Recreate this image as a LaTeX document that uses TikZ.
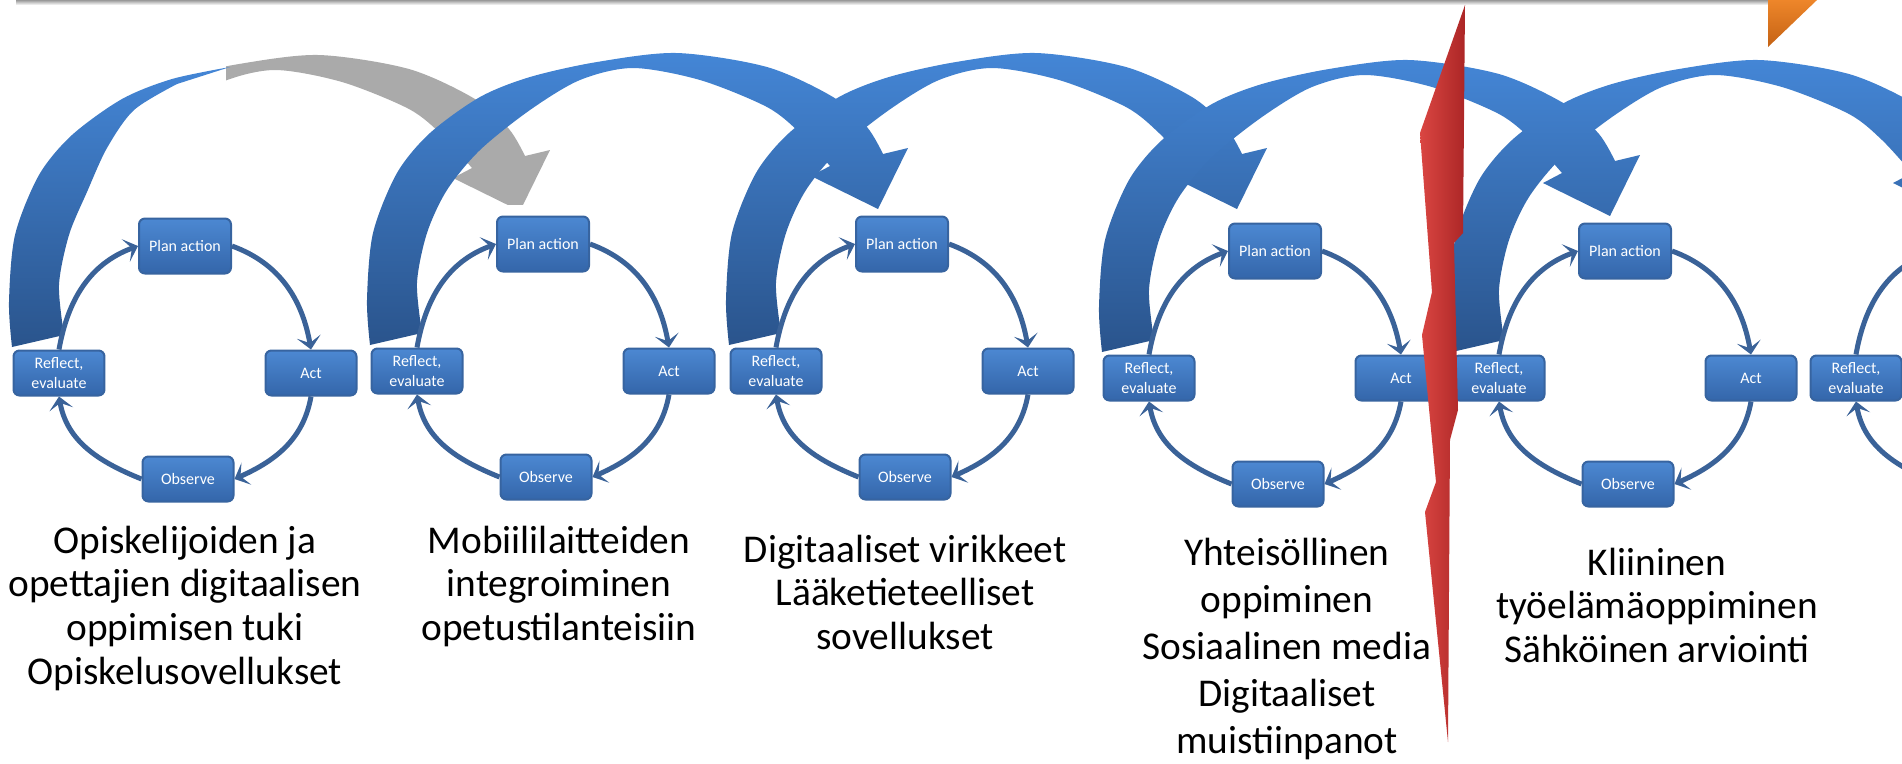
\documentclass[tikz,border=0pt]{standalone}
\usepackage{fontspec}
\setmainfont{Carlito}
\usetikzlibrary{arrows.meta}

\definecolor{boxtop}{RGB}{76,136,210}
\definecolor{boxbot}{RGB}{52,102,170}
\definecolor{boxline}{RGB}{55,100,160}
\definecolor{ringblue}{RGB}{58,98,152}
\definecolor{bandtop}{RGB}{68,134,214}
\definecolor{bandbot}{RGB}{42,84,140}
\definecolor{shadowgray}{RGB}{170,170,170}
\definecolor{boltred}{RGB}{218,70,66}
\definecolor{boltdark}{RGB}{172,38,38}
\definecolor{tiporange}{RGB}{238,134,42}
\definecolor{tipdark}{RGB}{196,98,20}

\tikzset{
  stagebox/.style={rectangle, rounded corners=0.6mm, draw=boxline, line width=0.2mm,
    top color=boxtop, bottom color=boxbot, text=white, inner sep=0pt,
    minimum width=9.1mm, minimum height=4.5mm, align=center,
    font=\fontsize{4.55}{5.5}\selectfont},
  planbox/.style={minimum width=9.2mm, minimum height=5.5mm},
  ringarrow/.style={draw=ringblue, line width=0.5mm,
    -{Stealth[length=1.3mm, width=2.4mm, inset=0.65mm]}},
  topic/.style={font=\fontsize{11.2}{12.5}\selectfont, align=center, anchor=north, inner sep=0pt}
}

\begin{document}
\begin{tikzpicture}[x=0.1mm, y=0.1mm]

\useasboundingbox (0,0) rectangle (1902,-763);
\clip (0,0) rectangle (1902,-763);

% shadow line of the bar above
\shade[top color=black!40, bottom color=white] (16,0) rectangle (1768,-5);

% first big arrow: grey body, blue tail
\begin{scope}
  \clip (226,0) rectangle (900,-204);
  \fill[shadowgray, shift={(185,-373)}]
    plot[smooth] coordinates {(-173,26) (-176,71) (-170,138) (-146,198) (-113,238) (-63,274) (-13,294) (54,309) (134,318) (224,304) (290,274) (324,244) (340,217)}
    -- (365,223) -- (335,162) -- (268,195)
    -- plot[smooth] coordinates {(287,205) (257,238) (224,264) (157,291) (90,303) (37,291) (-13,261) (-63,221) (-96,181) (-116,138) (-126,88) (-121,38)}
    -- cycle;
\end{scope}
\shade[top color=bandtop, bottom color=bandbot, shift={(185,-373)}]
  plot[smooth] coordinates {(-173,26) (-176,71) (-170,138) (-146,198) (-113,238) (-63,274) (-13,294) (45,306)}
  -- plot[smooth] coordinates {(-8,289) (-51,263) (-78,225) (-98,181) (-116,138) (-126,88) (-121,38)}
  -- cycle;

% big arrows from one cycle to the next
\foreach \cx/\cy in {543/371, 902/371, 1275/378, 1625/378}{%
  \shade[top color=bandtop, bottom color=bandbot, shift={(\cx,-\cy)}]
    plot[smooth] coordinates {(-173,26) (-176,71) (-170,138) (-146,198) (-113,238) (-63,274) (-13,294) (54,309) (134,318) (224,304) (290,274) (324,244) (340,217)}
    -- (365,223) -- (335,162) -- (268,195)
    -- plot[smooth] coordinates {(287,205) (257,238) (224,264) (157,291) (90,303) (37,291) (-13,261) (-63,221) (-96,181) (-116,138) (-126,88) (-121,38)}
    -- cycle;
}

% the action research cycles
\foreach \n/\cx/\cy in {1/185/373, 2/543/371, 3/902/371, 4/1275/378, 5/1625/378}{%
  \node[stagebox, planbox] (p\n) at ({\cx},{-\cy+127}) {Plan action};
  \node[stagebox] (a\n) at ({\cx+126},{-\cy}) {Act};
  \node[stagebox] (o\n) at ({\cx+3},{-\cy-106}) {Observe};
  \node[stagebox] (r\n) at ({\cx-126},{-\cy}) {Reflect,\\evaluate};
  \draw[ringarrow] (p\n.east) to[out=-20, in=100] (a\n.north);
  \draw[ringarrow] (a\n.south) to[out=-100, in=24] (o\n.east);
  \draw[ringarrow] (o\n.west) to[out=158, in=-80] (r\n.south);
  \draw[ringarrow] (r\n.north) to[out=80, in=200] (p\n.west);
}
% sixth cycle, only its left part is on the page
\node[stagebox] (r6) at (1856,-378) {Reflect,\\evaluate};
\coordinate (p6) at (1935,-251);
\coordinate (o6) at (1939,-484);
\draw[ringarrow] (o6) to[out=158, in=-80] (r6.south);
\draw[ringarrow] (r6.north) to[out=80, in=200] (p6);

% topics under the cycles
\node[topic] (t1) at (185,-525) {Opiskelijoiden ja\\opettajien digitaalisen\\oppimisen tuki\\Opiskelusovellukset};
\node[topic] (t2) at (559,-525) {Mobiililaitteiden\\integroiminen\\opetustilanteisiin};
\node[topic] (t3) at (905,-534) {Digitaaliset virikkeet\\Lääketieteelliset\\sovellukset};
\node[topic, font=\fontsize{11.2}{13.4}\selectfont] (t4) at (1287,-537) {Yhteisöllinen\\oppiminen\\Sosiaalinen media\\Digitaaliset\\muistiinpanot};
\node[topic] (t5) at (1657,-547) {Kliininen\\työelämäoppiminen\\Sähköinen arviointi};

% break
\shade[left color=boltred, right color=boltdark]
  (1465,-5) -- (1463,-233) -- (1454,-243) -- (1458,-410) -- (1450,-440) -- (1448,-742)
  -- (1425,-512) -- (1436,-482) -- (1422,-335) -- (1432,-292) -- (1420,-133) -- cycle;

% corner of the orange arrow
\shade[top color=tiporange, bottom color=tipdark] (1768,0) -- (1817,0) -- (1768,-47) -- cycle;

\end{tikzpicture}
\end{document}
